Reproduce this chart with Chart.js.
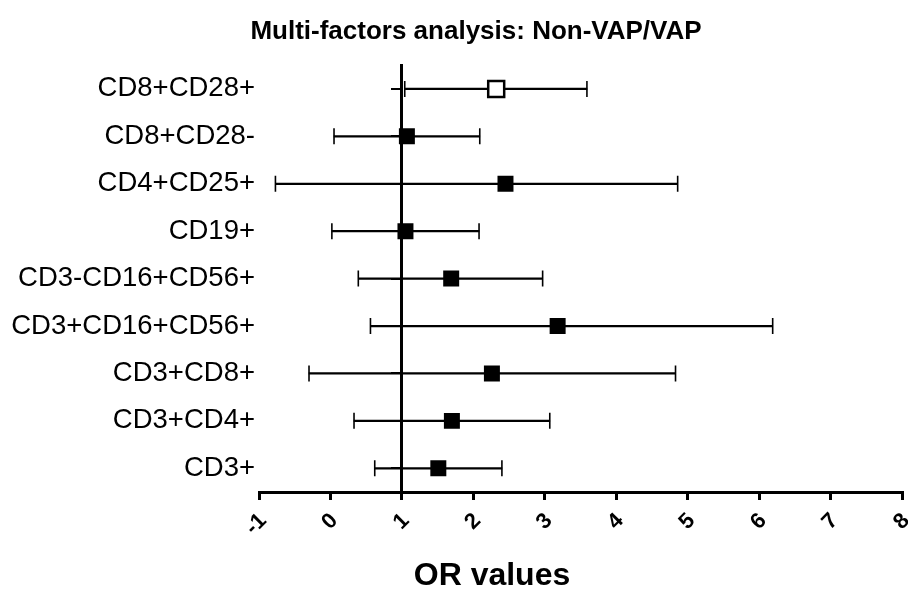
<!DOCTYPE html>
<html lang="en">
<head>
<meta charset="utf-8">
<title>Multi-factors analysis: Non-VAP/VAP</title>
<style>
  body { margin: 0; background: #fff; }
  .wrap { width: 908px; height: 592px; }
</style>
</head>
<body>
<div class="wrap"><canvas id="forest"></canvas></div>
<script src="https://cdn.jsdelivr.net/npm/chart.js@4.4.1/dist/chart.umd.min.js"></script>
<script>
  // rows, top to bottom
  const cats = ["CD8+CD28+", "CD8+CD28-", "CD4+CD25+", "CD19+", "CD3-CD16+CD56+",
                "CD3+CD16+CD56+", "CD3+CD8+", "CD3+CD4+", "CD3+"];
  // odds ratio and its lower / upper bounds
  const orValues = [2.32, 1.07, 2.45, 1.05, 1.69, 3.18, 2.26, 1.70, 1.51];
  const lower    = [1.04, 0.05, -0.77, 0.02, 0.39, 0.56, -0.30, 0.33, 0.62];
  const upper    = [3.59, 2.09, 4.86, 2.08, 2.97, 6.19, 4.83, 3.07, 2.40];
  const xTicks   = [-1, 0, 1, 2, 3, 4, 5, 6, 7, 8];

  Chart.defaults.color = "#000";
  Chart.defaults.font.family = "'Liberation Sans', Arial, sans-serif";

  // the titles in the original sit a bit right of the canvas centre
  const titleShift = {
    id: "titleShift",
    afterLayout(chart, args, opts) {
      const title = chart.titleBlock;
      chart.boxes.forEach((b) => {
        if (!title || b.constructor !== title.constructor) return;
        const dx = b === title ? opts.title : opts.subtitle;
        b.left += dx;
        b.right += dx;
      });
    },
  };

  const ctx = document.getElementById("forest");

  new Chart(ctx, {
    type: "bar",
    plugins: [titleShift],
    data: {
      labels: cats,
      datasets: [
        {
          type: "scatter",
          order: 0,
          data: cats.map((c, i) => ({ x: orValues[i], y: c })),
          pointStyle: "rect",
          pointRadius: 11.3,
          pointHoverRadius: 11.3,
          pointBackgroundColor: cats.map((c, i) => i === 0 ? "#fff" : "#000"),
          pointBorderColor: "#000",
          pointBorderWidth: cats.map((c, i) => i === 0 ? 2.5 : 0),
        },
        {
          type: "scatter",
          order: 1,
          data: cats.map((c, i) => ({ x: lower[i], y: c }))
            .concat(cats.map((c, i) => ({ x: upper[i], y: c }))),
          pointStyle: "line",
          rotation: 90,
          pointRadius: 8,
          pointBorderColor: "#000",
          pointBorderWidth: 1.6,
        },
        {
          type: "bar",
          order: 2,
          indexAxis: "y",
          data: cats.map((c, i) => [lower[i], upper[i]]),
          backgroundColor: "#000",
          borderWidth: 0,
          barThickness: 1.6,
        },
      ],
    },
    options: {
      responsive: true,
      maintainAspectRatio: false,
      animation: false,
      layout: { autoPadding: false, padding: { left: 4, right: 6, top: 0, bottom: 0 } },
      plugins: {
        legend: { display: false },
        tooltip: { enabled: false },
        titleShift: { title: 23, subtitle: 39 },
        title: {
          display: true,
          text: "Multi-factors analysis: Non-VAP/VAP",
          font: { size: 26, weight: "bold" },
          padding: { top: 16, bottom: 18 },
        },
        subtitle: {
          display: true,
          position: "bottom",
          text: "OR values",
          font: { size: 32, weight: "bold", lineHeight: 1 },
          padding: { top: 0, bottom: 0 },
        },
      },
      scales: {
        x: {
          type: "linear",
          offset: false,
          min: xTicks[0],
          max: xTicks[xTicks.length - 1],
          afterBuildTicks: (scale) => { scale.ticks = xTicks.map(v => ({ value: v })); },
          afterFit: (scale) => { scale.height = 68; scale.paddingLeft = 0; scale.paddingRight = 0; },
          grid: { offset: false, drawOnChartArea: false, drawTicks: true, tickLength: 8, lineWidth: 3, color: "#000" },
          border: { display: true, width: 3, color: "#000" },
          ticks: {
            autoSkip: false,
            minRotation: 45,
            maxRotation: 45,
            labelOffset: 4,
            padding: 8,
            font: { size: 22, weight: "bold" },
          },
        },
        y: {
          type: "category",
          offset: true,
          afterFit: (scale) => { scale.width = 255; },
          grid: { display: false, drawTicks: false },
          border: { display: false },
          ticks: { padding: 4, font: { size: 27.5 } },
        },
        y2: {
          type: "category",
          labels: cats,
          offset: true,
          position: { x: 1 },
          afterFit: (scale) => { scale.width = 0; },
          grid: { offset: false, drawOnChartArea: false, drawTicks: true, tickLength: 9, lineWidth: 2, color: "#000" },
          border: { display: true, width: 3, color: "#000" },
          ticks: { display: false },
        },
      },
    },
  });
</script>
</body>
</html>
